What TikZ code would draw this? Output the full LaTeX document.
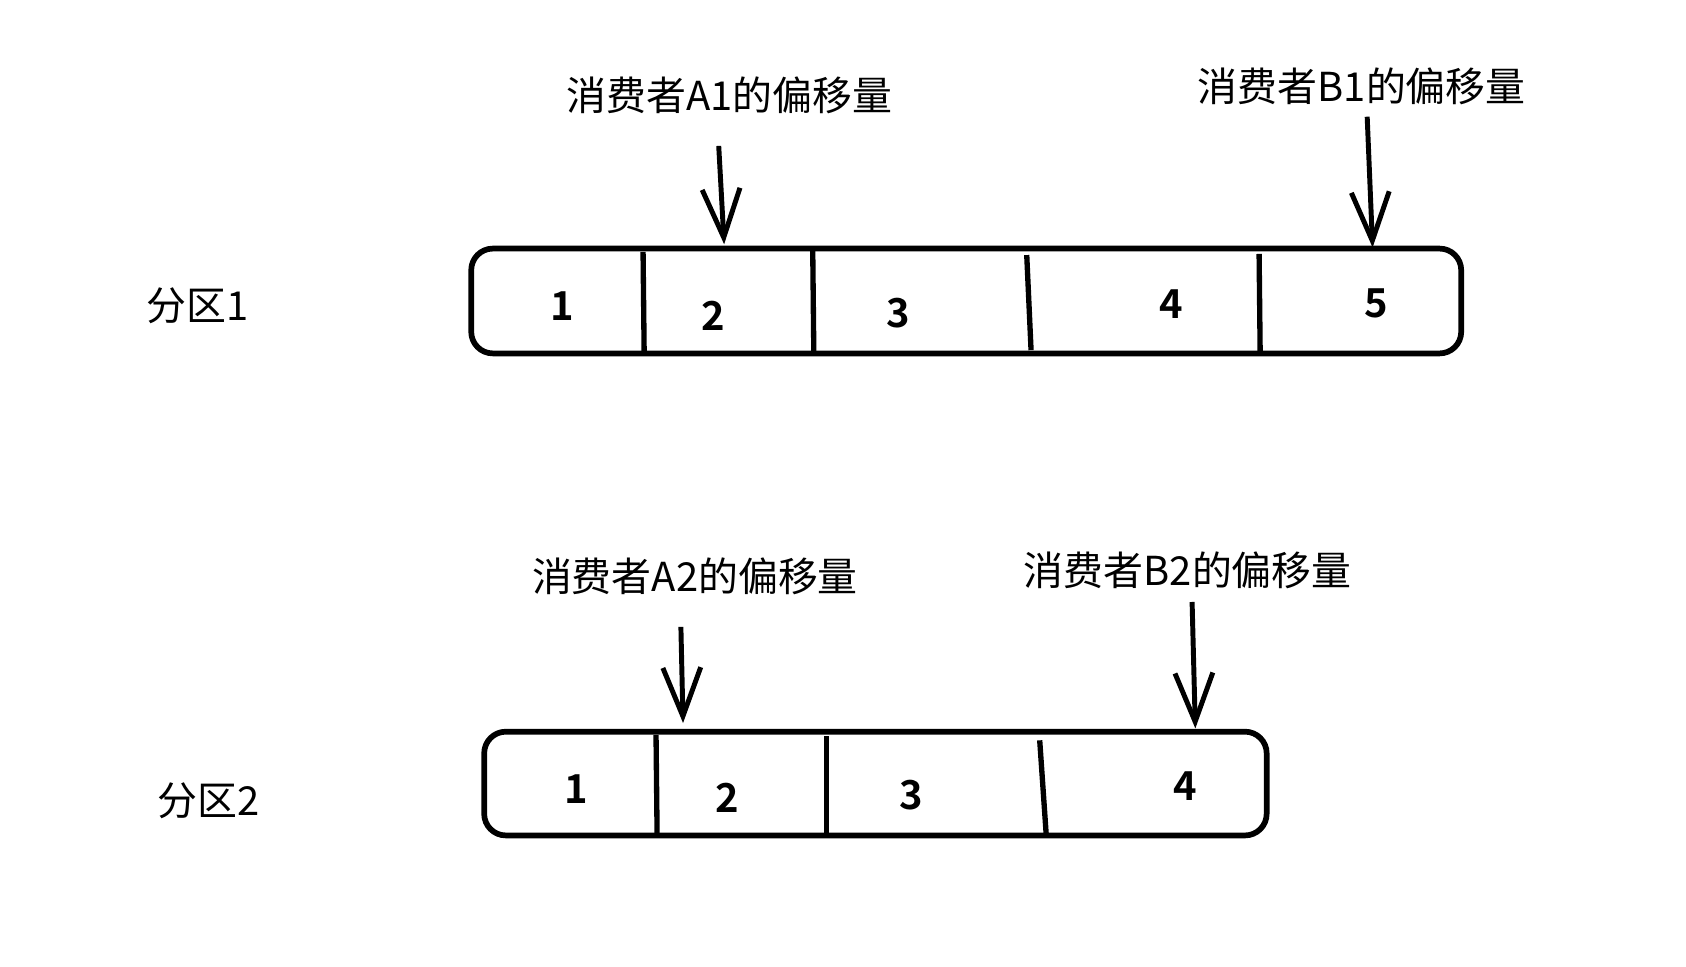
\documentclass[tikz,border=0pt]{standalone}
\usepackage{fontspec}
\setmainfont{Noto Sans CJK SC}[BoldFont={Noto Sans CJK SC Bold}]
\usetikzlibrary{arrows.meta}
\begin{document}
\begin{tikzpicture}[x=0.01cm,y=-0.01cm,
  lbl/.style={font=\fontsize{10.5pt}{12pt}\selectfont, inner sep=0pt},
  num/.style={font=\bfseries\fontsize{10.5pt}{12pt}\selectfont, inner sep=0pt},
  bar/.style={line width=1.5pt, rounded corners=0.2cm},
  divl/.style={line width=1.4pt},
  ptr/.style={line width=1.3pt, -{Straight Barb[length=4.5mm,width=3.5mm,line width=1.3pt]}}]
\useasboundingbox (0,0) rectangle (1560,894);
% row 1
\node[lbl] (p1) at (183,283) {分区1};
\draw[bar] (436,230) rectangle (1352,327);
\draw[divl] (595,233) -- (596,325);
\draw[divl] (752,232) -- (753,327);
\draw[divl] (950,236) -- (954,324);
\draw[divl] (1165,235) -- (1166,328);
\node[num] (a1) at (520,283) {1};
\node[num] (a2) at (660,292) {2};
\node[num] (a3) at (831,290) {3};
\node[num] (a4) at (1084,281) {4};
\node[num] (a5) at (1273,281) {5};
\node[lbl] (lA1) at (675,88) {消费者A1的偏移量};
\node[lbl] (lB1) at (1260,80) {消费者B1的偏移量};
\coordinate (sA1) at (665,135); \coordinate (eA1) at (670,226);
\coordinate (sB1) at (1265,108); \coordinate (eB1) at (1270,229);
\draw[ptr] (sA1) -- (eA1);
\draw[ptr] (sB1) -- (eB1);
% row 2
\node[lbl] (p2) at (193,741) {分区2};
\draw[bar] (448,677) rectangle (1172,773);
\draw[divl] (607,680) -- (608,773);
\draw[divl] (765,681) -- (765,773);
\draw[divl] (962,685) -- (968,772);
\node[num] (b1) at (533,730) {1};
\node[num] (b2) at (673,738) {2};
\node[num] (b3) at (843,736) {3};
\node[num] (b4) at (1097,727) {4};
\node[lbl] (lA2) at (643,533) {消费者A2的偏移量};
\node[lbl] (lB2) at (1099,528) {消费者B2的偏移量};
\coordinate (sA2) at (630,580); \coordinate (eA2) at (632,669);
\coordinate (sB2) at (1103,557); \coordinate (eB2) at (1106,674);
\draw[ptr] (sA2) -- (eA2);
\draw[ptr] (sB2) -- (eB2);
\end{tikzpicture}
\end{document}
